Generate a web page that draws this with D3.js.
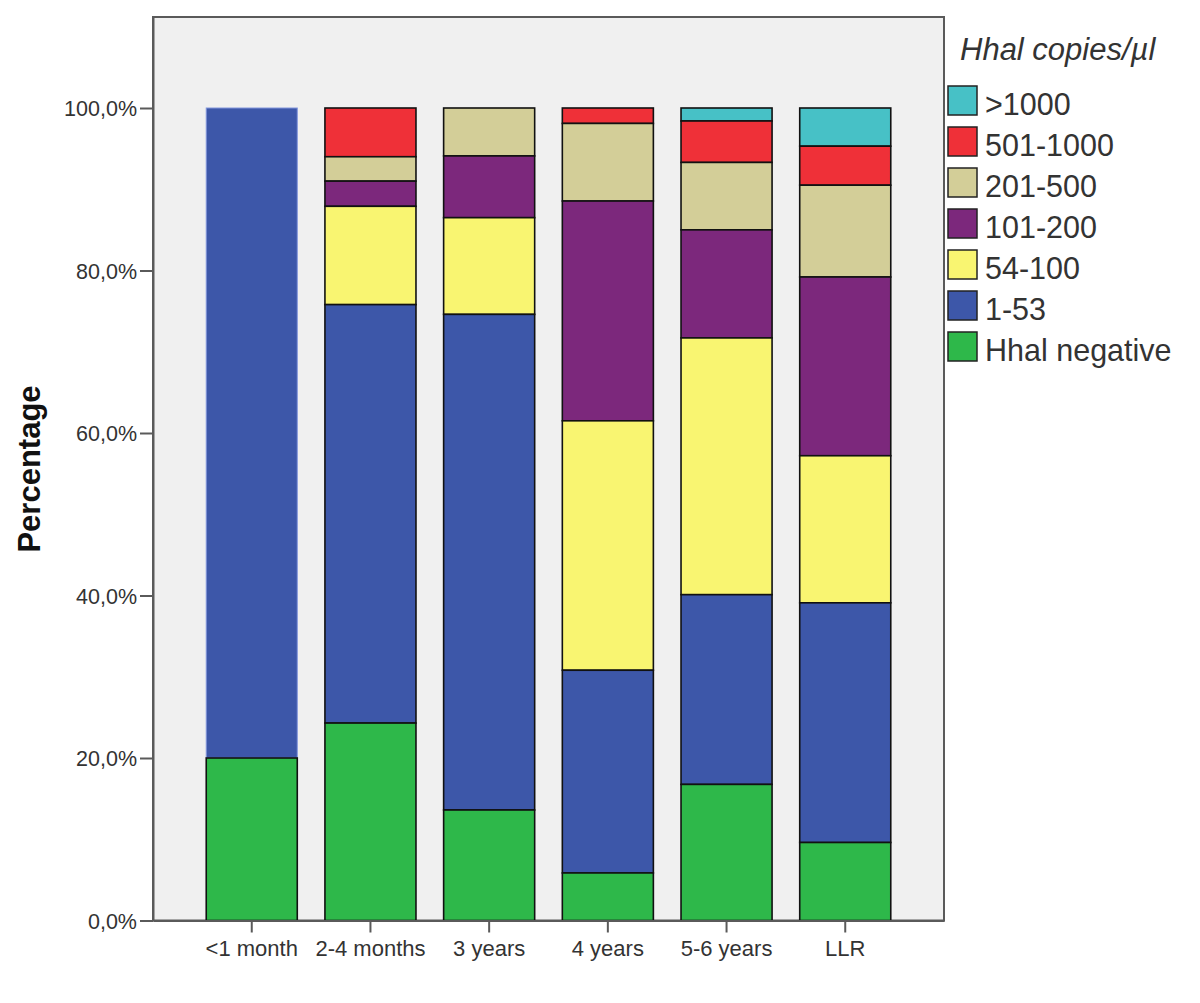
<!DOCTYPE html>
<html>
<head>
<meta charset="utf-8">
<script src="https://cdn.jsdelivr.net/npm/d3@7"></script>
<style>
  html, body { margin: 0; padding: 0; background: #fff; }
  svg { display: block; font-family: "Liberation Sans", Arial, sans-serif; }
</style>
</head>
<body>
<svg id="chart" width="1200" height="1003"></svg>
<script>
// ---- data ----
const categories = ["<1 month", "2-4 months", "3 years", "4 years", "5-6 years", "LLR"];
const seriesNames = ["Hhal negative", "1-53", "54-100", "101-200", "201-500", "501-1000", ">1000"];
const seriesColors = ["#2eb84a", "#3d57a9", "#f9f571", "#7c287c", "#d3ce98", "#ef3038", "#47c1c6"];
// percentage per category, one array per series (bottom to top)
const hhalNegative = [20.0, 24.3, 13.6, 5.85, 16.75, 9.6];
const c1to53       = [80.0, 51.5, 61.0, 24.95, 23.35, 29.5];
const c54to100     = [0.0, 12.1, 11.9, 30.7, 31.6, 18.1];
const c101to200    = [0.0, 3.1, 7.6, 27.05, 13.3, 22.0];
const c201to500    = [0.0, 3.0, 5.9, 9.55, 8.3, 11.3];
const c501to1000   = [0.0, 6.0, 0.0, 1.9, 5.1, 4.8];
const cOver1000    = [0.0, 0.0, 0.0, 0.0, 1.6, 4.7];
const yTicks = [0, 20, 40, 60, 80, 100];
const legendTitle = "Hhal copies/µl";
const yTitle = "Percentage";

const seriesValues = [hhalNegative, c1to53, c54to100, c101to200, c201to500, c501to1000, cOver1000];

// ---- layout ----
const svg = d3.select("#chart");
const plot = { left: 153, right: 944, top: 17, bottom: 920.5 };

const x = d3.scaleBand()
  .domain(categories)
  .range([plot.left, plot.right])
  .paddingInner(0.233)
  .paddingOuter(0.4485);

const y = d3.scaleLinear()
  .domain([0, 111.2])
  .range([plot.bottom, plot.top]);

// plot background & frame
svg.append("rect")
  .attr("x", plot.left).attr("y", plot.top)
  .attr("width", plot.right - plot.left).attr("height", plot.bottom - plot.top)
  .attr("fill", "#f0f0f0")
  .attr("stroke", "#5a5a5a").attr("stroke-width", 2);

// stacked data
const table = categories.map((c, i) => {
  const row = { category: c };
  seriesNames.forEach((s, j) => row[s] = seriesValues[j][i]);
  return row;
});
const stacked = d3.stack().keys(seriesNames)(table);

// draw top series first so lower segments' outlines sit on top
const layers = svg.append("g").selectAll("g")
  .data(stacked.slice().reverse())
  .join("g")
  .attr("fill", d => seriesColors[d.index]);

layers.selectAll("rect")
  .data(d => d.map(p => ({ key: d.key, p })))
  .join("rect")
  .filter(d => d.p[1] - d.p[0] > 0)
  .attr("x", d => x(d.p.data.category))
  .attr("width", x.bandwidth())
  .attr("y", d => y(d.p[1]))
  .attr("height", d => y(d.p[0]) - y(d.p[1]))
  .attr("stroke", d => (d.p.data.category === "<1 month" && d.key === "1-53") ? "#8196dc" : "#111")
  .attr("stroke-width", d => (d.p.data.category === "<1 month" && d.key === "1-53") ? 1 : 1.6);

// y axis
const yAxis = d3.axisLeft(y)
  .tickValues(yTicks)
  .tickSize(13)
  .tickSizeOuter(0)
  .tickPadding(3)
  .tickFormat(v => d3.format(".1f")(v).replace(".", ",") + "%");
const gy = svg.append("g")
  .attr("transform", `translate(${plot.left},0)`)
  .call(yAxis);
gy.select(".domain").attr("stroke", "#5a5a5a").attr("stroke-width", 2);
gy.selectAll(".tick line").attr("stroke", "#5a5a5a").attr("stroke-width", 2);
gy.selectAll(".tick text")
  .attr("fill", "#333")
  .style("font-size", "21.5px")
  .attr("dy", "0.35em");

// x axis
const xAxis = d3.axisBottom(x).tickSize(12).tickPadding(8).tickSizeOuter(0);
const gx = svg.append("g")
  .attr("transform", `translate(0,${plot.bottom})`)
  .call(xAxis);
gx.select(".domain").attr("stroke", "#5a5a5a").attr("stroke-width", 2);
gx.selectAll(".tick line").attr("stroke", "#5a5a5a").attr("stroke-width", 2);
gx.selectAll(".tick text")
  .attr("fill", "#333")
  .style("font-size", "22px");

// y title
svg.append("text")
  .attr("transform", `translate(40,469) rotate(-90)`)
  .attr("text-anchor", "middle")
  .style("font-size", "31px")
  .style("font-weight", "bold")
  .attr("fill", "#111")
  .text(yTitle);

// legend
const legend = svg.append("g");
legend.append("text")
  .attr("x", 960).attr("y", 60)
  .style("font-size", "31px")
  .style("font-style", "italic")
  .attr("fill", "#333")
  .text(legendTitle);

const legendOrder = seriesNames.map((s, i) => ({ s, c: seriesColors[i] })).reverse();
const li = legend.selectAll("g.item")
  .data(legendOrder)
  .join("g")
  .attr("class", "item")
  .attr("transform", (d, i) => `translate(948,${86 + i * 41})`);
li.append("rect")
  .attr("width", 29).attr("height", 29)
  .attr("fill", d => d.c)
  .attr("stroke", "#222").attr("stroke-width", 1.5);
li.append("text")
  .attr("x", 37).attr("y", 29)
  .style("font-size", "30.5px")
  .attr("fill", "#333")
  .text(d => d.s);
</script>
</body>
</html>
